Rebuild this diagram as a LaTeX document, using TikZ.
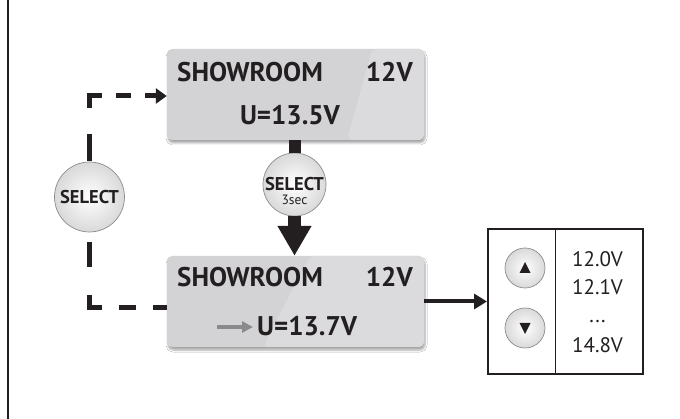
\documentclass[tikz,border=0pt]{standalone}
\usepackage{fontspec}
\setmainfont{PT Sans}
\usetikzlibrary{arrows.meta,shadows.blur,calc}
\definecolor{ink}{HTML}{231F20}
\definecolor{lcd}{HTML}{D3D3D5}
\definecolor{lcdlight}{HTML}{DBDBDD}
\definecolor{btnedge}{HTML}{8C8C8C}
\definecolor{btnout}{HTML}{D9D9D9}
\definecolor{grayarrow}{HTML}{8A8A8A}
\tikzset{
  lcdbox/.style={draw=none, fill=lcd, rounded corners=5pt, minimum width=257pt, minimum height=91pt,
    inner sep=0pt, blur shadow={shadow xshift=1pt, shadow yshift=-3pt, shadow blur steps=6, shadow opacity=35}},
  btn/.style={circle, draw=btnedge, line width=0.7pt, inner color=white, outer color=btnout, inner sep=0pt},
  lcdtext/.style={inner sep=0pt, text=ink, font=\fontsize{27}{27}\selectfont\bfseries},
  valtext/.style={inner sep=0pt, text=ink, font=\fontsize{21}{21}\selectfont},
  dashconn/.style={line width=5pt, ink},
}
\begin{document}
\begin{tikzpicture}[x=1pt,y=-1pt]
\useasboundingbox (0,0) rectangle (680,419);
\fill[white] (0,0) rectangle (680,419);
% left border
\coordinate (bt) at (8,0);
\coordinate (bb) at (8,419);
\draw[line width=2.5pt, ink] (bt) -- (bb);

% LCD boxes
\node[lcdbox, path picture={\fill[lcdlight] ([xshift=205pt]path picture bounding box.north west) -- (path picture bounding box.north east) -- (path picture bounding box.south east) -- ([xshift=180pt]path picture bounding box.south west) -- cycle;}] (lcd1) at (295.5,94.5) {};
\node[lcdbox, path picture={\fill[lcdlight] ([xshift=143pt]path picture bounding box.north west) -- (path picture bounding box.north east) -- (path picture bounding box.south east) -- ([xshift=96pt]path picture bounding box.south west) -- cycle;}] (lcd2) at (295.5,301.5) {};

\node[lcdtext, anchor=base west] (t1a) at (177,82) {SHOWROOM};
\node[lcdtext, anchor=base east] (t1b) at (413,82) {12V};
\node[lcdtext, anchor=base] (t1c) at (290,125) {U=13.5V};

\node[lcdtext, anchor=base west] (t2a) at (177,287) {SHOWROOM};
\node[lcdtext, anchor=base east] (t2b) at (413,287) {12V};
\node[lcdtext, anchor=base west] (t2c) at (257,336) {U=13.7V};
\coordinate (ga1) at (217,327);
\coordinate (ga2) at (253,327);
\draw[grayarrow, line width=3.5pt, -{Triangle[length=11pt,width=11pt]}] (ga1) -- (ga2);

% buttons
\node[btn, minimum size=70pt] (sel) at (89.5,197) {};
\node[inner sep=0pt, text=ink, font=\fontsize{18.5}{18.5}\selectfont\bfseries] (selt) at (89.5,197) {SELECT};
\node[btn, minimum size=63pt] (sel3) at (294.5,184.5) {};
\node[inner sep=0pt, text=ink, font=\fontsize{18.5}{18.5}\selectfont\bfseries, anchor=base] (sel3t) at (294.5,190.5) {SELECT};
\node[inner sep=0pt, text=ink, font=\fontsize{13.5}{13.5}\selectfont, anchor=base] (sel3s) at (294.5,204.5) {3sec};

% center connectors
\draw[ink, line width=12pt] (lcd1.south -| sel3) -- (sel3.north);
\draw[ink, line width=13pt, -{Triangle[length=30pt,width=32pt]}] (sel3.south) -- (lcd2.north -| sel3);

% dashed loops
\coordinate (c1) at (89.5,96);
\coordinate (c2) at (89.5,308);
\draw[dashconn, dash pattern=on 27pt off 26pt, dash phase=15pt] (c1) -- (sel.north);
\draw[dashconn, dash pattern=on 15pt off 14pt, dash phase=0pt, -{Triangle[length=11pt,width=15pt]}] ([xshift=-2.5pt]c1) -- (lcd1.west |- c1);
\draw[dashconn, dash pattern=on 25pt off 28pt, dash phase=12pt] (c2) -- (sel.south);
\draw[dashconn, dash pattern=on 17pt off 17pt, dash phase=2pt] ([xshift=-2.5pt]c2) -- (lcd2.west |- c2);

% value list
\node[draw=ink, line width=2pt, minimum width=155pt, minimum height=145pt, inner sep=0pt] (list) at (565.5,301.5) {};
\coordinate (dv1) at (555,229);
\coordinate (dv2) at (555,374);
\draw[ink, line width=1pt] (dv1) -- (dv2);
\draw[ink, line width=4pt, -{Triangle[length=13pt,width=15pt]}] (lcd2.east) -- (list.west);

\node[btn, minimum size=40pt] (up) at (525,268) {};
\node[btn, minimum size=40pt] (down) at (525,328) {};
\fill[ink] ($(up)+(0,-6)$) -- ($(up)+(5.5,5)$) -- ($(up)+(-5.5,5)$) -- cycle;
\fill[ink] ($(down)+(0,6)$) -- ($(down)+(5.5,-5)$) -- ($(down)+(-5.5,-5)$) -- cycle;

\node[valtext, anchor=base] (v1) at (597.5,267) {12.0V};
\node[valtext, anchor=base] (v2) at (597.5,295) {12.1V};
\node[valtext, anchor=base] (v3) at (597.5,323) {...};
\node[valtext, anchor=base] (v4) at (597.5,353) {14.8V};
\end{tikzpicture}
\end{document}
